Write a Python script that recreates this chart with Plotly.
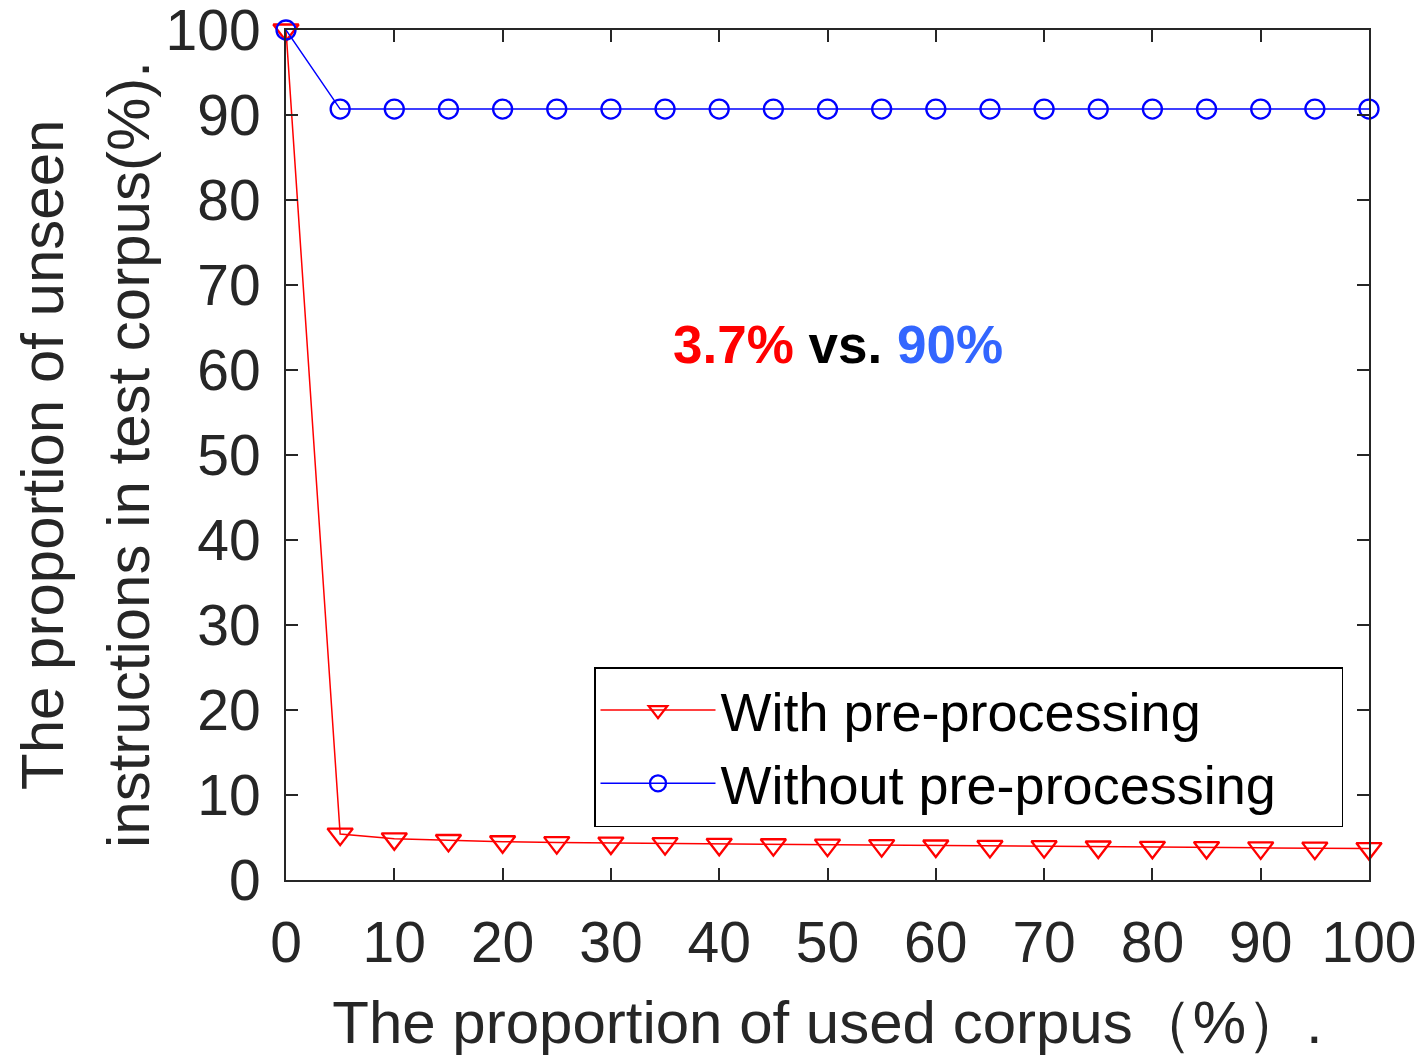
import plotly.graph_objects as go

x_vals = [0, 5, 10, 15, 20, 25, 30, 35, 40, 45, 50, 55, 60, 65, 70, 75, 80, 85, 90, 95, 100]
with_pre = [100, 5.4, 4.85, 4.65, 4.5, 4.4, 4.35, 4.28, 4.2, 4.15, 4.1, 4.05, 4.0, 3.95, 3.92, 3.88, 3.85, 3.82, 3.78, 3.75, 3.7]
without_pre = [100] + [90.7] * 20
x_ticks = [0, 10, 20, 30, 40, 50, 60, 70, 80, 90, 100]
y_ticks = [0, 10, 20, 30, 40, 50, 60, 70, 80, 90, 100]
y_title_lines = ["The proportion of unseen", "instructions in test corpus(%)."]
x_title = "The proportion of used corpus（%）."
series_names = ["With pre-processing", "Without pre-processing"]

FONT = "Liberation Sans, Arial, Helvetica, sans-serif"
AX = "#262626"
PAD = "\u00a0" * 4

fig = go.Figure()
fig.add_trace(go.Scatter(
    x=x_vals, y=with_pre, mode="lines+markers", name=series_names[0],
    line=dict(color="red", width=1.5),
    marker=dict(symbol="triangle-down-open", size=22, color="red", line=dict(width=2.3, color="red")),
    cliponaxis=False,
))
fig.add_trace(go.Scatter(
    x=x_vals, y=without_pre, mode="lines+markers", name=series_names[1] + PAD,
    line=dict(color="blue", width=1.5),
    marker=dict(symbol="circle-open", size=19, color="blue", line=dict(width=2.3, color="blue")),
    cliponaxis=False,
))

axis_common = dict(
    showgrid=False, zeroline=False, showline=True, mirror="ticks", automargin=False,
    linecolor=AX, linewidth=2, ticks="inside", ticklen=12, tickwidth=2, tickcolor=AX,
    tickfont=dict(family=FONT, size=57, color=AX), ticklabeloverflow="allow",
)
fig.update_xaxes(
    range=[0, 100], tickvals=x_ticks, ticktext=[str(v) for v in x_ticks],
    ticklabelstandoff=12,
    title=dict(text=x_title, font=dict(family=FONT, size=60, color=AX), standoff=28),
    **axis_common,
)
fig.update_yaxes(
    range=[0, 100], tickvals=y_ticks, ticktext=[str(v) for v in y_ticks],
    ticklabelstandoff=12,
    **axis_common,
)

# y-axis title, two lines
for txt, xpix in zip(y_title_lines, [42, 128]):
    fig.add_annotation(
        x=(xpix - 286) / 1083, y=0.5, xref="paper", yref="paper",
        xanchor="center", yanchor="middle", showarrow=False, textangle=-90,
        text=txt, font=dict(family=FONT, size=60, color=AX),
    )

fig.add_annotation(
    x=51, y=63, xref="x", yref="y", showarrow=False,
    text="<b><span style='color:#ff0000'>3.7%</span> vs. <span style='color:#3366ff'>90%</span></b>",
    font=dict(family=FONT, size=53, color="black"),
)

fig.update_layout(
    width=1422, height=1057,
    margin=dict(l=286, r=53, t=30, b=177),
    paper_bgcolor="white", plot_bgcolor="white",
    showlegend=True,
    legend=dict(
        x=(594 - 286) / 1083, y=(880 - 667) / 850, xanchor="left", yanchor="top",
        bgcolor="white", bordercolor="#000000", borderwidth=1.5,
        font=dict(family=FONT, size=54, color="black"),
        tracegroupgap=0, itemwidth=115,
    ),
)

fig.write_html("out.html")
